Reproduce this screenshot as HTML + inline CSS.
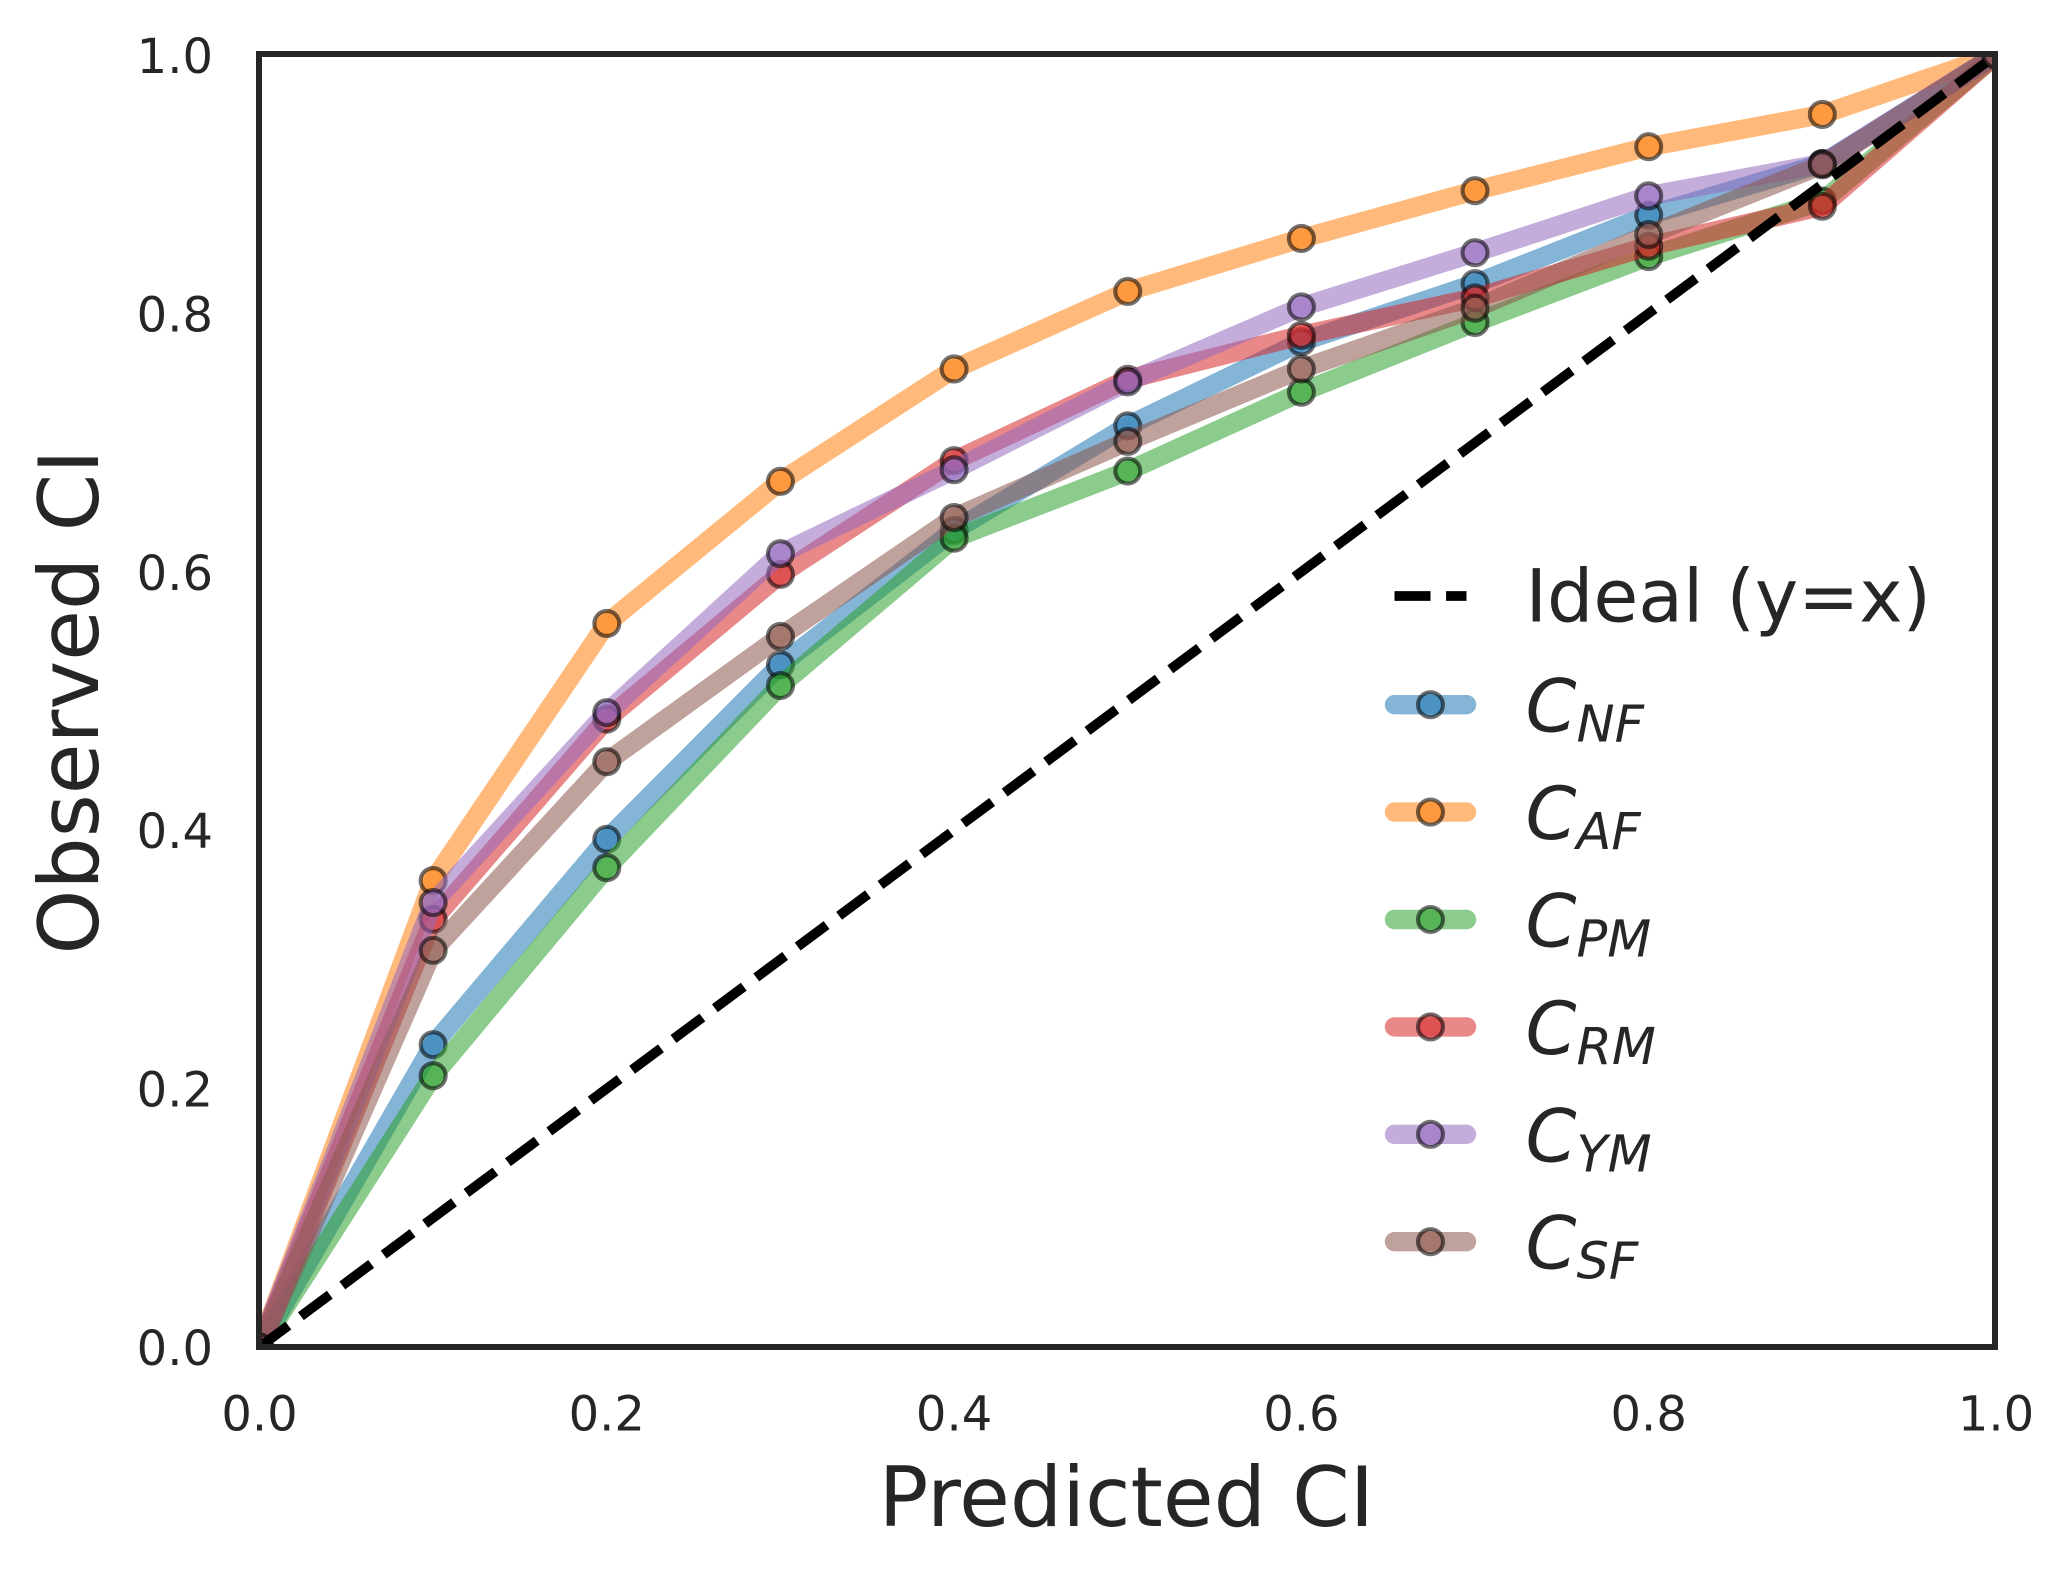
<!DOCTYPE html>
<html lang="en">
<head>
<meta charset="utf-8">
<title>Calibration chart</title>
<style>
html,body{margin:0;padding:0;background:#fff;}
svg{display:block;}
text{font-family:"DejaVu Sans","Liberation Sans",sans-serif;fill:#262626;}
</style>
</head>
<body>
<svg id="chart" xmlns="http://www.w3.org/2000/svg" width="2068" height="1577" viewBox="0 0 2068 1577">
<defs><clipPath id="plot-clip"><rect x="259" y="54" width="1736" height="1293"></rect></clipPath></defs>
<rect x="0" y="0" width="2068" height="1577" fill="#ffffff"></rect>
<g id="plot" clip-path="url(#plot-clip)"></g>
<rect x="259" y="54" width="1736" height="1293" fill="none" stroke="#262626" stroke-width="6"></rect>
<g id="ticks"></g>
<text x="1126.4" y="1526" font-size="82.5" text-anchor="middle">Predicted CI</text>
<text transform="translate(98,702) rotate(-90)" font-size="82.5" text-anchor="middle">Observed CI</text>
<g id="legend"></g>
</svg>
<script>
const xValues = [0, 0.1, 0.2, 0.3, 0.4, 0.5, 0.6, 0.7, 0.8, 0.9, 1];
const idealValues = [0, 1];
const valuesNF = [0, 0.234, 0.393, 0.528, 0.632, 0.713, 0.778, 0.823, 0.876, 0.916, 1];
const valuesAF = [0, 0.361, 0.560, 0.670, 0.757, 0.817, 0.858, 0.895, 0.929, 0.954, 1];
const valuesPM = [0, 0.210, 0.371, 0.512, 0.626, 0.678, 0.739, 0.793, 0.844, 0.887, 1];
const valuesRM = [0, 0.331, 0.486, 0.598, 0.686, 0.749, 0.783, 0.812, 0.852, 0.883, 1];
const valuesYM = [0, 0.344, 0.491, 0.614, 0.679, 0.747, 0.805, 0.847, 0.891, 0.916, 1];
const valuesSF = [0, 0.307, 0.453, 0.550, 0.642, 0.701, 0.757, 0.804, 0.861, 0.915, 1];
const xTickLabels = ['0.0', '0.2', '0.4', '0.6', '0.8', '1.0'];
const yTickLabels = ['0.0', '0.2', '0.4', '0.6', '0.8', '1.0'];
const seriesSubscripts = ['NF', 'AF', 'PM', 'RM', 'YM', 'SF'];
const seriesValues = [valuesNF, valuesAF, valuesPM, valuesRM, valuesYM, valuesSF];
const seriesColors = ['#1f77b4', '#ff7f0e', '#2ca02c', '#d62728', '#9467bd', '#8c564b'];
const idealLabel = 'Ideal (y=x)';

const NS = 'http://www.w3.org/2000/svg';
const AX = {left: 259.5, right: 1996, top: 55, bottom: 1347};
const ALPHA = 0.55;
const LINE_W = 19.4;
const DASH_W = 9.8;
const DASHES = '36 15.6';
const MARKER_R = 12.5;
const MARKER_EDGE = 4.1;

function xScale(v) { return AX.left + v * (AX.right - AX.left); }
function yScale(v) { return AX.bottom - v * (AX.bottom - AX.top); }
function make(tag, attrs, parent) {
  const node = document.createElementNS(NS, tag);
  for (const k in attrs) node.setAttribute(k, attrs[k]);
  parent.appendChild(node);
  return node;
}
function drawMarker(parent, cx, cy, color, name) {
  const el = make('circle', {cx: cx, cy: cy, r: MARKER_R, fill: color, 'fill-opacity': ALPHA,
    stroke: '#000000', 'stroke-opacity': ALPHA, 'stroke-width': MARKER_EDGE}, parent);
  
  
}

const plot = document.getElementById('plot');
seriesValues.forEach(function (vals, s) {
  const key = seriesSubscripts[s].toLowerCase();
  const g = make('g', {}, plot);
  
  
  const pts = vals.map(function (v, i) { return xScale(xValues[i]) + ',' + yScale(v); }).join(' ');
  const line = make('polyline', {points: pts, fill: 'none', stroke: seriesColors[s], 'stroke-opacity': ALPHA,
    'stroke-width': LINE_W, 'stroke-linejoin': 'round', 'stroke-linecap': 'round'}, g);
  
  
  vals.forEach(function (v, i) {
    drawMarker(g, xScale(xValues[i]), yScale(v), seriesColors[s], 'point-' + key + '-' + i);
  });
});
const ideal = make('line', {x1: xScale(idealValues[0]), y1: yScale(idealValues[0]), x2: xScale(idealValues[1]), y2: yScale(idealValues[1]),
  stroke: '#000000', 'stroke-width': DASH_W, 'stroke-dasharray': DASHES}, plot);



const ticks = document.getElementById('ticks');
xTickLabels.forEach(function (t) {
  const el = make('text', {x: xScale(parseFloat(t)), y: 1430.5, 'font-size': 48, 'text-anchor': 'middle'}, ticks);
  
  
  el.textContent = t;
});
yTickLabels.forEach(function (t) {
  const el = make('text', {x: 213, y: yScale(parseFloat(t)) + 18, 'font-size': 48, 'text-anchor': 'end'}, ticks);
  
  
  el.textContent = t;
});

const legend = document.getElementById('legend');
const HANDLE_X0 = 1394.5;
const HANDLE_X1 = 1466.5;
const LABEL_X = 1525.5;
const IDEAL_Y = 596;
const ROW_Y0 = 704.7;
const ROW_STEP = 107.4;
const LEGEND_FONT = 73;
const LEGEND_SUB_FONT = 51;

const legendDash = make('line', {x1: HANDLE_X0, y1: IDEAL_Y, x2: HANDLE_X1, y2: IDEAL_Y, stroke: '#000000',
  'stroke-width': DASH_W, 'stroke-dasharray': DASHES}, legend);


const legendIdeal = make('text', {x: LABEL_X, y: IDEAL_Y + 25.7, 'font-size': LEGEND_FONT}, legend);


legendIdeal.textContent = idealLabel;

seriesSubscripts.forEach(function (sub, s) {
  const y = ROW_Y0 + ROW_STEP * s;
  const key = sub.toLowerCase();
  const entry = make('g', {}, legend);
  
  
  const h = make('line', {x1: HANDLE_X0, y1: y, x2: HANDLE_X1, y2: y, stroke: seriesColors[s], 'stroke-opacity': ALPHA,
    'stroke-width': LINE_W, 'stroke-linecap': 'round'}, entry);
  
  
  drawMarker(entry, (HANDLE_X0 + HANDLE_X1) / 2, y, seriesColors[s], 'legend-marker-' + key);
  const label = make('text', {x: LABEL_X, y: y + 27, 'font-size': LEGEND_FONT, 'font-style': 'italic'}, entry);
  
  
  const c = make('tspan', {}, label);
  c.textContent = 'C';
  const subEl = make('tspan', {'font-size': LEGEND_SUB_FONT, dy: 10}, label);
  subEl.textContent = sub;
});
</script>
</body>
</html>
